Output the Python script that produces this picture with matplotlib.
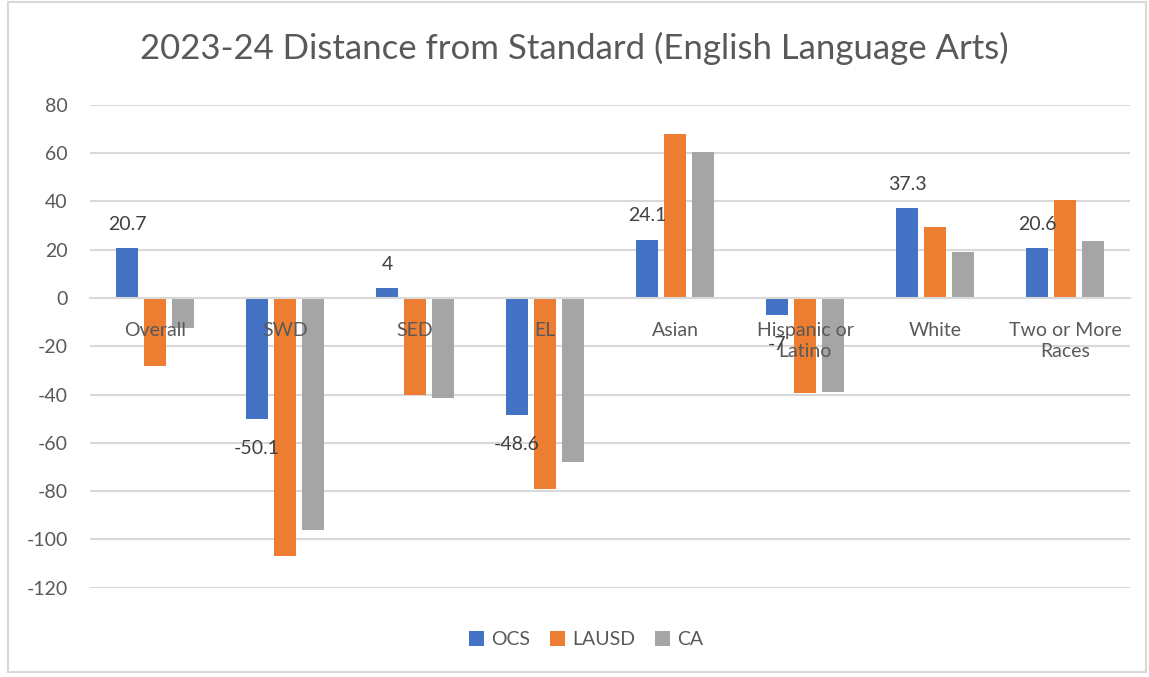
import matplotlib.pyplot as plt
from matplotlib.patches import Rectangle
import numpy as np

plt.rcParams['font.family'] = ['Lato', 'DejaVu Sans']
plt.rcParams['axes.unicode_minus'] = False

categories = ['Overall', 'SWD', 'SED', 'EL', 'Asian', 'Hispanic or\nLatino',
              'White', 'Two or More\nRaces']
ocs = [20.7, -50.1, 4, -48.6, 24.1, -7, 37.3, 20.6]
lausd = [-28.1, -106.9, -40.3, -79.3, 68.0, -39.4, 29.3, 40.4]
ca = [-12.5, -95.9, -41.5, -67.9, 60.3, -39.1, 19.2, 23.6]
yticks = list(range(-120, 81, 20))

text_color = '#595959'
grid_color = '#d9d9d9'

fig = plt.figure(figsize=(11.49, 6.77), dpi=100)
ax = fig.add_axes([0.0783, 0.1319, 0.9052, 0.7134])

# x axis sits on the zero line, labels go just under it (over the bars)
ax.spines['bottom'].set_position(('data', 0))
ax.spines['bottom'].set_color(grid_color)
ax.spines['bottom'].set_linewidth(1.5)
for s in ['left', 'right', 'top']:
    ax.spines[s].set_visible(False)

x = np.arange(len(categories))
w = 0.17
step = 0.215
b1 = ax.bar(x - step, ocs, w, color='#4472c4', label='OCS')
b2 = ax.bar(x, lausd, w, color='#ed7d31', label='LAUSD')
b3 = ax.bar(x + step, ca, w, color='#a5a5a5', label='CA')

# data labels only on the OCS series (negatives sit a bit further out)
ax.bar_label(b1, labels=['%g' % v if v >= 0 else '' for v in ocs], padding=11,
             fontsize=14, color='#404040')
ax.bar_label(b1, labels=['%g' % v if v < 0 else '' for v in ocs], padding=15,
             fontsize=14, color='#404040')

# gridlines under the bars
for t in yticks:
    ax.axhline(t, color=grid_color, linewidth=1.5, zorder=0.5)

ax.set_ylim(-120, 80)
ax.set_xlim(-0.5, len(categories) - 0.5)
ax.set_yticks(yticks)
ax.set_xticks(x)
ax.set_xticklabels(categories, fontsize=14, color=text_color,
                   linespacing=1.35, va='top')
ax.tick_params(axis='x', length=0, pad=17)
ax.tick_params(axis='y', length=0, pad=16, labelsize=14, labelcolor=text_color)

fig.text(0.5, 0.929, '2023-24 Distance from Standard (English Language Arts)',
         ha='center', va='center', fontsize=25, color=text_color)

fig.legend(handles=[b1, b2, b3], loc='center', bbox_to_anchor=(0.51, 0.055),
           ncol=3, frameon=False, fontsize=14, handlelength=0.8,
           handleheight=0.8, columnspacing=1.0, handletextpad=0.35,
           labelcolor=text_color)

fig.patches.append(Rectangle((0.007, 0.007), 0.99, 0.99, transform=fig.transFigure,
                             fill=False, edgecolor=grid_color, linewidth=1.5))

fig.savefig('out.png', dpi=100)
